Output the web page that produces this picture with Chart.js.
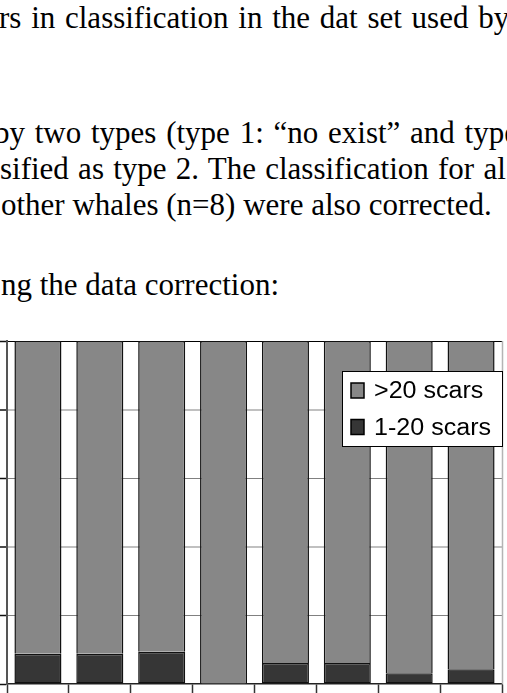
<!DOCTYPE html>
<html>
<head>
<meta charset="utf-8">
<script src="https://cdn.jsdelivr.net/npm/chart.js@4"></script>
<style>
  html, body { margin: 0; padding: 0; background: #fff; }
  body { width: 507px; height: 693px; overflow: hidden; position: relative; }
  .ln { position: absolute; white-space: nowrap; font-family: "Liberation Serif", "Times New Roman", serif;
        font-size: 31px; line-height: 31px; color: #000; }
  #wrap { position: absolute; left: 0; top: 330px; width: 507px; height: 363px; }
</style>
</head>
<body>
<div class="ln" style="left:-1px; top:2px; word-spacing:2px;">rs in classification in the dat set used by</div>
<div class="ln" style="left:-6px; top:117px; word-spacing:2px;">by two types (type 1: “no exist” and type</div>
<div class="ln" style="left:0px; top:153px; word-spacing:1.5px;">sified as type 2. The classification for al</div>
<div class="ln" style="left:1px; top:189px;">other whales (n=8) were also corrected.</div>
<div class="ln" style="left:1px; top:269px;">ng the data correction:</div>
<div id="wrap"><canvas id="c"></canvas></div>
<script>
// ---- data (percent of whales per category) ----
const categories = ['1', '2', '3', '4', '5', '6', '7', '8'];
const scars1to20 = [8.8, 8.8, 9.4, 0, 6.1, 6.1, 3.1, 4.3];
const scarsOver20 = [91.2, 91.2, 90.6, 100, 93.9, 93.9, 96.9, 95.7];
const yTicks = [0, 20, 40, 60, 80, 100];
const seriesNames = ['1-20 scars', '>20 scars'];
const seriesColors = ['#363636', '#878787'];

const gridColor = v => (v === 100 ? '#000000' : (v === 20 || v === 60) ? '#808080' : (v === 0 ? 'rgba(0,0,0,0)' : '#c0c0c0'));
const gridWidth = v => (v === 40 || v === 80) ? 2 : 1;

const legendAndBorder = {
  id: 'legendAndBorder',
  afterDraw(chart) {
    const ctx = chart.ctx;
    const a = chart.chartArea;
    ctx.save();
    // right plot border
    ctx.strokeStyle = '#b4b4b4';
    ctx.lineWidth = 1.5;
    ctx.beginPath();
    ctx.moveTo(a.right + 0.5, a.top);
    ctx.lineTo(a.right + 0.5, a.bottom);
    ctx.stroke();
    // legend box
    const bx = a.right - 160, by = a.top + 30, bw = 161, bh = 76;
    ctx.fillStyle = '#ffffff';
    ctx.fillRect(bx, by, bw, bh);
    ctx.strokeStyle = '#000';
    ctx.lineWidth = 1;
    ctx.strokeRect(bx + 0.5, by + 0.5, bw - 1, bh - 1);
    const ds = chart.data.datasets.slice().reverse();
    ds.forEach((d, i) => {
      const sy = by + 12 + i * 36.5;
      ctx.fillStyle = d.backgroundColor;
      ctx.fillRect(bx + 9, sy, 13, 15);
      ctx.strokeStyle = '#000';
      ctx.lineWidth = 1.5;
      ctx.strokeRect(bx + 9, sy, 13, 15);
      ctx.save();
      ctx.translate(bx + 32, sy + 15);
      ctx.scale(1.09, 1);
      ctx.fillStyle = '#000';
      ctx.font = '23px "Liberation Sans", Arial, sans-serif';
      ctx.textBaseline = 'alphabetic';
      ctx.fillText(d.label, 0, 0);
      ctx.restore();
    });
    ctx.restore();
  }
};

new Chart(document.getElementById('c'), {
  type: 'bar',
  data: {
    labels: categories,
    datasets: [
      { label: seriesNames[0], data: scars1to20, backgroundColor: seriesColors[0], borderColor: '#111', borderWidth: 1.5, borderSkipped: false },
      { label: seriesNames[1], data: scarsOver20, backgroundColor: seriesColors[1], borderColor: '#111', borderWidth: 1.5, borderSkipped: 'start' }
    ]
  },
  options: {
    responsive: true,
    maintainAspectRatio: false,
    animation: false,
    layout: { padding: { top: 11, right: 5, left: 0, bottom: 0 } },
    datasets: { bar: { barPercentage: 0.76, categoryPercentage: 1.0 } },
    plugins: { legend: { display: false }, tooltip: { enabled: false } },
    scales: {
      x: {
        stacked: true,
        ticks: { display: false },
        grid: { offset: true, drawOnChartArea: false, drawTicks: true, tickLength: 9, tickColor: '#333', tickWidth: 1.5 },
        border: { color: '#222', width: 1.5 },
        afterFit: s => { s.height = 9; }
      },
      y: {
        stacked: true,
        min: yTicks[0],
        max: yTicks[yTicks.length - 1],
        afterBuildTicks: s => { s.ticks = yTicks.map(v => ({ value: v })); },
        ticks: { display: false, stepSize: 20 },
        grid: {
          drawTicks: true, tickLength: 7, tickColor: '#111', tickWidth: 1.5,
          color: c => gridColor(c.tick ? c.tick.value : 0),
          lineWidth: c => gridWidth(c.tick ? c.tick.value : 0)
        },
        border: { color: '#555', width: 2 },
        afterFit: s => { s.width = 7; }
      }
    }
  },
  plugins: [legendAndBorder]
});
</script>
</body>
</html>
